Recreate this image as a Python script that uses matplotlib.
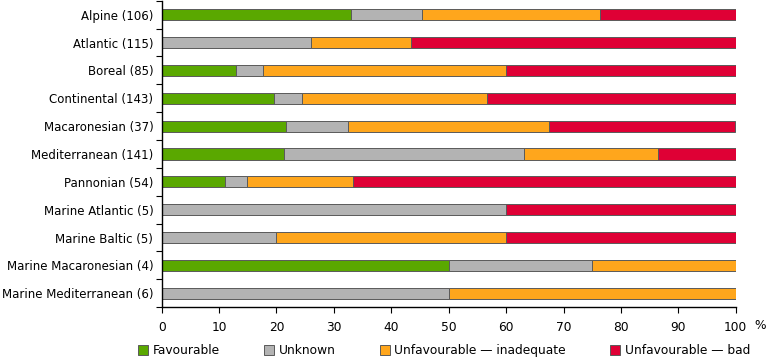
import matplotlib.pyplot as plt
import numpy as np
from matplotlib.patches import Patch
from matplotlib.ticker import FixedLocator

regions = ['Alpine (106)', 'Atlantic (115)', 'Boreal (85)', 'Continental (143)',
           'Macaronesian (37)', 'Mediterranean (141)', 'Pannonian (54)',
           'Marine Atlantic (5)', 'Marine Baltic (5)', 'Marine Macaronesian (4)',
           'Marine Mediterranean (6)']
favourable = [33.0, 0.0, 12.9, 19.6, 21.6, 21.3, 11.1, 0.0, 0.0, 50.0, 0.0]
unknown = [12.3, 26.1, 4.7, 4.9, 10.8, 41.8, 3.7, 60.0, 20.0, 25.0, 50.0]
inadequate = [31.1, 17.4, 42.4, 32.2, 35.1, 23.4, 18.5, 0.0, 40.0, 25.0, 50.0]
bad = [23.6, 56.5, 40.0, 43.4, 32.4, 13.5, 66.7, 40.0, 40.0, 0.0, 0.0]

series = [('Favourable', favourable, '#5aa800'),
          ('Unknown', unknown, '#b3b3b3'),
          ('Unfavourable — inadequate', inadequate, '#ffa61c'),
          ('Unfavourable — bad', bad, '#df0035')]

plt.rcParams['font.family'] = 'DejaVu Sans'
fig = plt.figure(figsize=(7.68, 3.61), dpi=100)
ax = fig.add_axes([0.2105, 0.149, 0.7475, 0.849])

y = np.arange(len(regions))
left = np.zeros(len(regions))
for name, vals, col in series:
    vals = np.array(vals)
    ax.barh(y, vals, left=left, height=0.4, color=col, edgecolor='#5a5a5a', linewidth=0.7)
    left += vals

ax.set_ylim(len(regions) - 0.5, -0.5)
ax.set_xlim(0, 100)
ax.set_xticks(range(0, 101, 10))
ax.set_yticks(y)
ax.set_yticklabels(regions, fontsize=8.5)
ax.yaxis.set_minor_locator(FixedLocator(np.arange(-0.5, len(regions), 1)))
ax.tick_params(axis='y', which='major', length=0, pad=6)
ax.tick_params(axis='y', which='minor', length=4, width=0.8)
ax.tick_params(axis='x', length=4, width=0.8, labelsize=8.8, pad=6)
ax.spines['top'].set_visible(False)
ax.spines['right'].set_visible(False)
ax.spines['left'].set_linewidth(1.0)
ax.spines['bottom'].set_linewidth(1.0)
fig.text(0.982, 0.099, '%', fontsize=8.8, ha='left', va='center')

handles = [Patch(facecolor=c, edgecolor='#5a5a5a', linewidth=0.7, label=n) for n, _, c in series]
fig.legend(handles=handles, loc='lower left', bbox_to_anchor=(0.166, -0.02), ncol=4,
           frameon=False, fontsize=8.8, handlelength=0.8, handleheight=0.8,
           handletextpad=0.4, columnspacing=3.6)

fig.savefig('out.png', dpi=100)
